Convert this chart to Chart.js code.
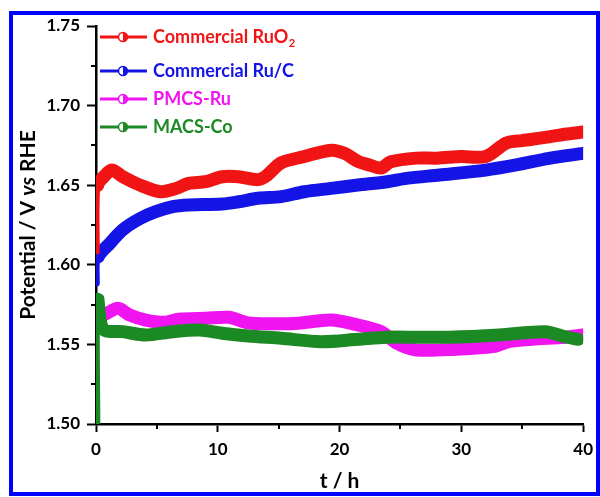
<!DOCTYPE html>
<html>
<head>
<meta charset="utf-8">
<script src="https://cdn.jsdelivr.net/npm/chart.js@4.4.1/dist/chart.umd.min.js"></script>
<style>
  html, body { margin: 0; padding: 0; background: #ffffff; }
  #wrap { width: 600px; height: 497px; }
</style>
</head>
<body>
<div id="wrap"><canvas id="c" width="600" height="497"></canvas></div>
<script>
// Chronopotentiometry traces: time (h) and potential (V vs RHE)
const seriesLabels = ['Commercial RuO\u2082', 'Commercial Ru/C', 'PMCS-Ru', 'MACS-Co'];
const seriesColors = ['#f01414', '#1414e6', '#f014f0', '#1c8a24'];

const ruo2Time = [0.1, 0.15, 0.6, 1.3, 2.2, 3.6, 5.3, 6.6, 7.6, 9.0, 10.35, 11.7, 13.3, 14.0, 15.2, 17.1, 19.3, 20.4, 21.5, 22.5, 23.4, 24.2, 26.3, 28.0, 30.0, 32.0, 33.7, 35.0, 36.9, 38.5, 40.0];
const ruo2Pot  = [1.608, 1.650, 1.655, 1.6595, 1.6553, 1.6501, 1.6459, 1.648, 1.6512, 1.6522, 1.6553, 1.6553, 1.6535, 1.656, 1.664, 1.668, 1.672, 1.670, 1.665, 1.6626, 1.6608, 1.6647, 1.667, 1.667, 1.668, 1.668, 1.6765, 1.678, 1.680, 1.682, 1.6834];

const rucTime = [0.1, 0.19, 1.14, 2.2, 3.6, 4.9, 6.3, 7.6, 10.35, 11.7, 13.3, 15.2, 17.1, 19.3, 21.5, 23.9, 25.5, 28.2, 32.0, 34.5, 37.2, 40.0];
const rucPot  = [1.588, 1.605, 1.6135, 1.622, 1.629, 1.6334, 1.6365, 1.6376, 1.6382, 1.6396, 1.6418, 1.6428, 1.6459, 1.648, 1.6501, 1.6522, 1.6543, 1.6564, 1.6595, 1.6627, 1.6669, 1.670];

const pmcsTime = [0.1, 0.87, 1.8, 2.76, 4.1, 5.6, 6.8, 9.0, 10.9, 12.5, 14.5, 16.6, 19.3, 21.5, 23.4, 24.7, 26.3, 29.6, 32.6, 33.9, 35.8, 38.5, 40.0];
const pmcsPot  = [1.5674, 1.5695, 1.5727, 1.5685, 1.5653, 1.5639, 1.5658, 1.5664, 1.567, 1.5635, 1.563, 1.5633, 1.5653, 1.5622, 1.558, 1.5507, 1.5465, 1.547, 1.5486, 1.5517, 1.5532, 1.5545, 1.5559];

const macsTime = [0.15, 0.15, 0.6, 2.2, 4.1, 6.3, 8.5, 10.35, 12.5, 15.2, 18.5, 21.5, 23.9, 26.3, 29.0, 33.1, 36.9, 38.5, 39.6];
const macsPot  = [1.50, 1.578, 1.5595, 1.558, 1.5559, 1.558, 1.559, 1.557, 1.5553, 1.5538, 1.5517, 1.5532, 1.5545, 1.5545, 1.5545, 1.5559, 1.558, 1.5548, 1.5532];

const xTicks = [0, 10, 20, 30, 40];
const xMinorTicks = [5, 15, 25, 35];
const yTicks = [1.50, 1.55, 1.60, 1.65, 1.70, 1.75];
const yMinorTicks = [1.525, 1.575, 1.625, 1.675, 1.725];

const FONT = 'Lato, "Open Sans", sans-serif';

function pts(ts, vs) { return ts.map((t, i) => ({ x: t, y: vs[i] })); }

const seriesData = [pts(ruo2Time, ruo2Pot), pts(rucTime, rucPot), pts(pmcsTime, pmcsPot), pts(macsTime, macsPot)];
const drawOrder = [0, 1, 3, 2];

const datasets = seriesLabels.map((lab, i) => ({
  label: lab,
  data: seriesData[i],
  borderColor: seriesColors[i],
  backgroundColor: seriesColors[i],
  borderWidth: 13,
  borderJoinStyle: 'round',
  borderCapStyle: 'round',
  pointRadius: 0,
  tension: 0.3,
  clip: 0,
  order: drawOrder[i],
  segment: { borderWidth: c => (c.p0DataIndex === 0 ? 5 : 13) }
}));

// frame around the figure
const framePlugin = {
  id: 'frame',
  beforeDraw(chart) {
    const ctx = chart.ctx;
    ctx.save();
    ctx.fillStyle = '#ffffff';
    ctx.fillRect(0, 0, chart.width, chart.height);
    ctx.restore();
  },
  afterDraw(chart) {
    const ctx = chart.ctx;
    ctx.save();
    ctx.strokeStyle = '#0000ff';
    ctx.lineWidth = 4;
    ctx.strokeRect(11, 13, 587, 481);
    ctx.restore();
  }
};

// minor ticks, axis titles and the in-plot legend
const decorPlugin = {
  id: 'decor',
  afterDraw(chart) {
    const ctx = chart.ctx;
    const xs = chart.scales.x, ys = chart.scales.y;
    const area = chart.chartArea;
    ctx.save();
    ctx.strokeStyle = '#000';
    ctx.lineWidth = 2;
    xMinorTicks.forEach(v => {
      const px = Math.round(xs.getPixelForValue(v));
      ctx.beginPath(); ctx.moveTo(px, area.bottom); ctx.lineTo(px, area.bottom + 5); ctx.stroke();
    });
    yMinorTicks.forEach(v => {
      const py = Math.round(ys.getPixelForValue(v));
      ctx.beginPath(); ctx.moveTo(area.left, py); ctx.lineTo(area.left - 5, py); ctx.stroke();
    });

    // x title
    ctx.fillStyle = '#000';
    ctx.font = 'bold 21px ' + FONT;
    ctx.textAlign = 'center';
    ctx.textBaseline = 'middle';
    ctx.fillText('t / h', (area.left + area.right) / 2, 481);

    // y title with italic "vs"
    const parts = [
      { t: 'Potential / V ', f: 'bold 21px ' + FONT },
      { t: 'vs', f: 'italic bold 21px ' + FONT },
      { t: ' RHE', f: 'bold 21px ' + FONT }
    ];
    let total = 0;
    parts.forEach(p => { ctx.font = p.f; p.w = ctx.measureText(p.t).width; total += p.w; });
    ctx.translate(28, (area.top + area.bottom) / 2);
    ctx.rotate(-Math.PI / 2);
    ctx.textAlign = 'left';
    let cx = -total / 2;
    parts.forEach(p => { ctx.font = p.f; ctx.fillText(p.t, cx, 0); cx += p.w; });
    ctx.restore();

    // legend
    const rows = [37, 71, 99, 127];
    ctx.save();
    chart.data.datasets.forEach((ds, i) => {
      const y = rows[i];
      const col = ds.borderColor;
      ctx.strokeStyle = col;
      ctx.lineWidth = 3;
      ctx.beginPath(); ctx.moveTo(100, y); ctx.lineTo(147, y); ctx.stroke();
      const mx = 123, r = 4.5;
      ctx.fillStyle = '#ffffff';
      ctx.beginPath(); ctx.arc(mx, y, r, 0, Math.PI * 2); ctx.fill();
      ctx.fillStyle = col;
      ctx.beginPath(); ctx.arc(mx, y, r, -Math.PI / 2, Math.PI / 2); ctx.closePath(); ctx.fill();
      ctx.lineWidth = 1.5;
      ctx.beginPath(); ctx.arc(mx, y, r, 0, Math.PI * 2); ctx.stroke();

      ctx.fillStyle = col;
      ctx.textAlign = 'left';
      ctx.textBaseline = 'middle';
      const segs = ds.label.split('\u2082');
      let tx = 153;
      ctx.font = 'bold 18px ' + FONT;
      ctx.fillText(segs[0], tx, y);
      tx += ctx.measureText(segs[0]).width;
      if (segs.length > 1) {
        ctx.font = 'bold 11px ' + FONT;
        ctx.fillText('2', tx + 0.5, y + 6);
      }
    });
    ctx.restore();
  }
};

new Chart(document.getElementById('c'), {
  type: 'line',
  data: { datasets },
  options: {
    responsive: false,
    animation: false,
    devicePixelRatio: 1,
    layout: { padding: { top: 26, right: 12, left: 0, bottom: 0 } },
    plugins: { legend: { display: false }, tooltip: { enabled: false } },
    scales: {
      x: {
        type: 'linear', min: 0, max: 40,
        afterFit: s => { s.height = 73; },
        afterBuildTicks: s => { s.ticks = xTicks.map(v => ({ value: v })); },
        ticks: { color: '#000', font: { family: FONT, size: 17, weight: 'bold' }, padding: 7, maxRotation: 0 },
        grid: { drawOnChartArea: false, tickLength: 8, tickWidth: 2, tickColor: '#000' },
        border: { color: '#000', width: 2.5 }
      },
      y: {
        type: 'linear', min: 1.5, max: 1.75,
        afterFit: s => { s.width = 96; },
        afterBuildTicks: s => { s.ticks = yTicks.map(v => ({ value: v })); },
        ticks: { color: '#000', font: { family: FONT, size: 17, weight: 'bold' }, padding: 7, callback: v => Number(v).toFixed(2) },
        grid: { drawOnChartArea: false, tickLength: 9, tickWidth: 2, tickColor: '#000' },
        border: { color: '#000', width: 2.5 }
      }
    }
  },
  plugins: [framePlugin, decorPlugin]
});
</script>
</body>
</html>
